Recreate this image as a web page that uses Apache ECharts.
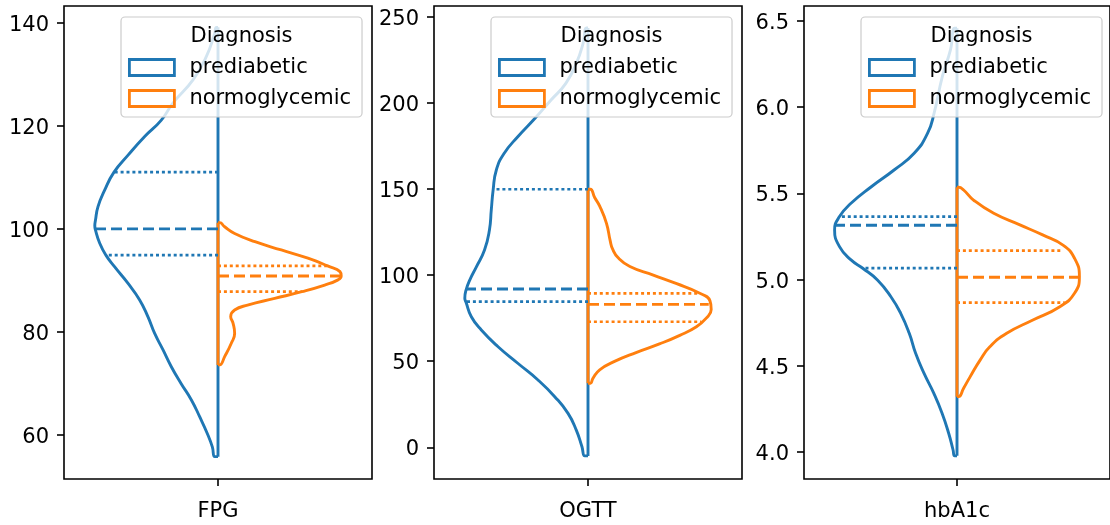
<!DOCTYPE html>
<html>
<head>
<meta charset="utf-8">
<script src="https://cdn.jsdelivr.net/npm/echarts@6/dist/echarts.min.js"></script>
<style>
html,body{margin:0;padding:0;background:#fff;}
#chart{width:1110px;height:525px;}
</style>
</head>
<body>
<div id="chart"></div>
<script>
// ---------- data ----------
const categories = ['FPG', 'OGTT', 'hbA1c'];
const groups = ['prediabetic', 'normoglycemic'];

const fpgTicks = [60, 80, 100, 120, 140];
const ogttTicks = [0, 50, 100, 150, 200, 250];
const hba1cTicks = [4.0, 4.5, 5.0, 5.5, 6.0, 6.5];

// FPG, prediabetic: values and relative density (max = 1)
const fpgPreY = [55.8, 57.7, 60.3, 63.55, 66.8, 70.0, 73.3, 76.5, 79.7, 83.0, 86.2, 89.4, 92.65, 94.9, 97.2, 99.8, 100.6, 101.6, 104.3, 107.5, 111.0, 114.3, 117.9, 121.1, 124.4, 128.9, 133.4, 137.9, 139.1];
const fpgPreD = [0.027, 0.046, 0.087, 0.149, 0.216, 0.30, 0.38, 0.446, 0.514, 0.57, 0.636, 0.73, 0.84, 0.91, 0.96, 0.995, 1.0, 0.995, 0.974, 0.92, 0.844, 0.73, 0.595, 0.46, 0.366, 0.203, 0.095, 0.027, 0.014];
const fpgPreQ = [94.9, 100.0, 111.0];
const fpgPreQW = [0.91, 0.995, 0.844];

// FPG, normoglycemic
const fpgNormY = [73.6, 75.2, 77.8, 79.7, 81.7, 83.0, 84.25, 85.2, 86.5, 87.8, 89.1, 90.1, 90.85, 91.7, 92.8, 94.3, 95.9, 97.5, 99.1, 100.4, 101.2];
const fpgNormD = [0.014, 0.054, 0.108, 0.135, 0.122, 0.103, 0.135, 0.24, 0.46, 0.68, 0.866, 0.974, 1.0, 0.99, 0.89, 0.73, 0.514, 0.30, 0.135, 0.054, 0.014];
const fpgNormQ = [87.8, 90.85, 92.8];
const fpgNormQW = [0.68, 1.0, 0.9];

// OGTT, prediabetic
const ogttPreY = [-5.0, 0.35, 10.0, 19.7, 29.4, 39.1, 48.8, 58.4, 68.1, 75.8, 84.2, 86.5, 91.3, 97.1, 104.8, 114.5, 126.2, 137.8, 149.4, 161.0, 170.7, 180.3, 191.0, 201.6, 211.3, 222.9, 234.5, 243.5];
const ogttPreD = [0.027, 0.049, 0.095, 0.162, 0.27, 0.406, 0.57, 0.73, 0.866, 0.947, 0.99, 1.0, 0.99, 0.96, 0.906, 0.84, 0.80, 0.785, 0.77, 0.744, 0.68, 0.57, 0.43, 0.30, 0.18, 0.095, 0.04, 0.014];
const ogttPreQ = [84.6, 91.9, 149.8];
const ogttPreQW = [0.99, 0.99, 0.77];

// OGTT, normoglycemic
const ogttNormY = [37.2, 40, 45, 50, 55, 60, 65, 70, 75, 80, 85, 90, 95, 100, 105, 110, 115, 120, 130, 140, 145, 149.8];
const ogttNormD = [0.02, 0.04, 0.095, 0.22, 0.39, 0.58, 0.745, 0.88, 0.96, 1.0, 0.99, 0.89, 0.72, 0.53, 0.34, 0.245, 0.20, 0.18, 0.15, 0.095, 0.054, 0.02];
const ogttNormQ = [72.9, 83.0, 89.4];
const ogttNormQW = [0.92, 0.98, 0.89];

// hbA1c, prediabetic
const hbPreY = [3.979, 4.013, 4.11, 4.226, 4.342, 4.458, 4.573, 4.689, 4.805, 4.901, 4.998, 5.066, 5.114, 5.191, 5.288, 5.365, 5.442, 5.538, 5.635, 5.732, 5.848, 5.97, 6.176, 6.33, 6.456];
const hbPreD = [0.02, 0.032, 0.068, 0.122, 0.19, 0.27, 0.338, 0.39, 0.46, 0.54, 0.65, 0.77, 0.866, 0.96, 1.0, 0.96, 0.866, 0.70, 0.514, 0.35, 0.24, 0.185, 0.12, 0.054, 0.02];
const hbPreQ = [5.066, 5.315, 5.365];
const hbPreQW = [0.77, 0.99, 0.96];

// hbA1c, normoglycemic
const hbNormY = [4.322, 4.371, 4.438, 4.535, 4.612, 4.689, 4.766, 4.843, 4.921, 5.017, 5.124, 5.20, 5.259, 5.317, 5.384, 5.461, 5.519, 5.535];
const hbNormD = [0.014, 0.054, 0.108, 0.19, 0.27, 0.406, 0.62, 0.84, 0.96, 1.0, 0.96, 0.866, 0.70, 0.514, 0.30, 0.135, 0.054, 0.014];
const hbNormQ = [4.867, 5.014, 5.168];
const hbNormQW = [0.88, 0.995, 0.866];

// ---------- assembly ----------
const BLUE = '#1f77b4', ORANGE = '#ff7f0e';
const panels = [
  {ticks: fpgTicks, min: 51.46, max: 143.24, fmt: v => String(v),
   pre: [fpgPreY, fpgPreD, fpgPreQ, fpgPreQW], norm: [fpgNormY, fpgNormD, fpgNormQ, fpgNormQW]},
  {ticks: ogttTicks, min: -18.4, max: 256.2, fmt: v => String(v),
   pre: [ogttPreY, ogttPreD, ogttPreQ, ogttPreQW], norm: [ogttNormY, ogttNormD, ogttNormQ, ogttNormQW]},
  {ticks: hba1cTicks, min: 3.845, max: 6.585, fmt: v => v.toFixed(1),
   pre: [hbPreY, hbPreD, hbPreQ, hbPreQW], norm: [hbNormY, hbNormD, hbNormQ, hbNormQW]}
];
const gridLefts = [64, 434, 804];
const FONT = 'DejaVu Sans';
const FS = 21;
const LW = 2.9;

const grids = [], xAxes = [], yAxes = [], series = [], legends = [], graphics = [];

function addHalf(i, arr, side, color, name) {
  const [ys, ds, qs, qw] = arr;
  const curve = [[0, ys[0]]].concat(ys.map((y, k) => [side * ds[k], y])).concat([[0, ys[ys.length - 1]]]);
  series.push({
    type: 'line', name: name, xAxisIndex: i, yAxisIndex: i, data: curve,
    smooth: 0.5, symbol: 'none', showSymbol: false, silent: true,
    lineStyle: {color: color, width: LW}, itemStyle: {color: color}, z: side < 0 ? 2 : 3
  });
  series.push({
    type: 'line', xAxisIndex: i, yAxisIndex: i, data: [[0, ys[0]], [0, ys[ys.length - 1]]],
    symbol: 'none', showSymbol: false, silent: true,
    lineStyle: {color: color, width: LW}, z: side < 0 ? 2 : 3
  });
  qs.forEach((q, k) => {
    series.push({
      type: 'line', xAxisIndex: i, yAxisIndex: i, data: [[0, q], [side * qw[k], q]],
      symbol: 'none', showSymbol: false, silent: true,
      lineStyle: {color: color, width: k === 1 ? 2.9 : 2.7, type: k === 1 ? [11, 5] : [3, 2.9]}, z: 4
    });
  });
}

panels.forEach((p, i) => {
  grids.push({left: gridLefts[i], top: 6, width: 308, height: 473, show: true,
    borderColor: '#000', borderWidth: 1.6, backgroundColor: 'rgba(0,0,0,0)'});
  xAxes.push({type: 'value', gridIndex: i, min: -1.25, max: 1.25,
    axisLine: {show: false, onZero: false}, splitLine: {show: false},
    axisTick: {show: true, customValues: [0], length: 7, lineStyle: {color: '#000', width: 1.6}},
    axisLabel: {customValues: [0], formatter: () => categories[i], fontSize: FS, fontFamily: FONT, color: '#000', margin: 22}});
  yAxes.push({type: 'value', gridIndex: i, min: p.min, max: p.max,
    axisLine: {show: false, onZero: false}, splitLine: {show: false},
    axisTick: {show: true, customValues: p.ticks, length: 7, lineStyle: {color: '#000', width: 1.6}},
    axisLabel: {customValues: p.ticks, formatter: p.fmt, fontSize: FS, fontFamily: FONT, color: '#000', margin: 15,
      verticalAlign: 'top', lineHeight: 5}});
  addHalf(i, p.pre, -1, BLUE, groups[0]);
  addHalf(i, p.norm, 1, ORANGE, groups[1]);
  const lx = gridLefts[i] + 57;
  legends.push({
    orient: 'vertical', left: lx, top: 17, padding: [40, 11, 8, 7],
    itemWidth: 45, itemHeight: 16, itemGap: 10, icon: 'rect',
    backgroundColor: 'rgba(255,255,255,0.8)', borderColor: '#cccccc', borderWidth: 1.2, borderRadius: 4,
    textStyle: {fontSize: FS, fontFamily: FONT, color: '#000', padding: [0, 0, 0, 10]},
    selectedMode: false,
    data: [
      {name: groups[0], itemStyle: {color: 'rgba(255,255,255,0)', borderColor: BLUE, borderWidth: 2.8}},
      {name: groups[1], itemStyle: {color: 'rgba(255,255,255,0)', borderColor: ORANGE, borderWidth: 2.8}}
    ]
  });
  graphics.push({type: 'text', x: lx + 120.5, y: 36.5, z: 100,
    style: {text: 'Diagnosis', fontSize: FS, fontFamily: FONT, fill: '#000', align: 'center', verticalAlign: 'middle'}});
});

const chart = echarts.init(document.getElementById('chart'), null, {renderer: 'canvas'});
chart.setOption({
  animation: false,
  backgroundColor: '#fff',
  grid: grids, xAxis: xAxes, yAxis: yAxes, series: series, legend: legends,
  graphic: {elements: graphics}
});
</script>
</body>
</html>
